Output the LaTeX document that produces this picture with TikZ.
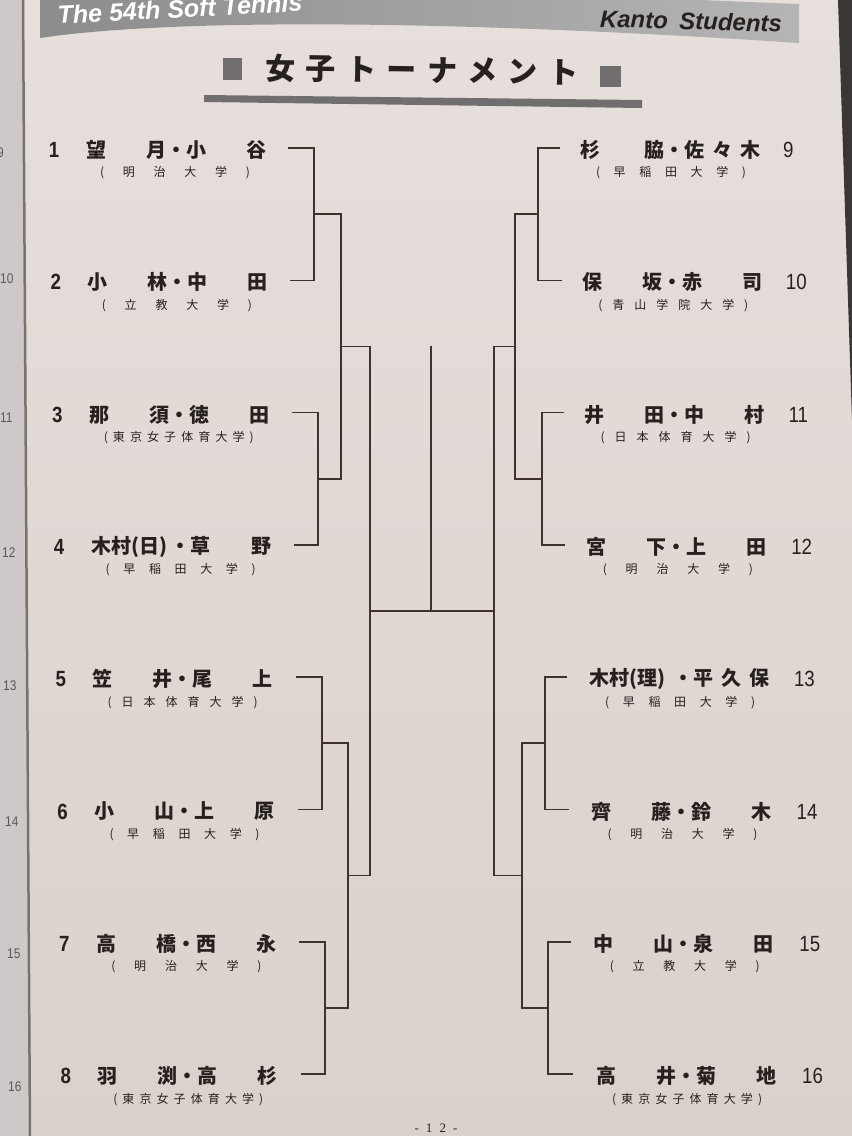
\documentclass[tikz,border=0pt]{standalone}
\usepackage{fontspec}
\setmainfont{Liberation Sans}
\newfontfamily\jpfont{Noto Sans CJK JP}
\newfontfamily\numfont{Liberation Sans}[FakeStretch=0.85]
\newfontfamily\folio{Liberation Serif}

\definecolor{paperhi}{RGB}{231,223,220}
\definecolor{paperlo}{RGB}{219,209,204}
\definecolor{strip}{RGB}{206,201,200}
\definecolor{gutter}{RGB}{120,114,112}
\definecolor{desk}{RGB}{58,54,54}
\definecolor{bandL}{RGB}{140,140,140}
\definecolor{bandR}{RGB}{182,181,181}
\definecolor{titlegray}{RGB}{112,110,110}
\definecolor{ink}{RGB}{38,32,30}
\definecolor{rule}{RGB}{62,50,44}

% spread a school name evenly between its brackets
\ExplSyntaxOn
\NewDocumentCommand \school { m }
  { \makebox[150pt][s]{ ( \exp_args:No \tl_map_inline:nn {#1} { \hfill ##1 } \hfill ) } }
\ExplSyntaxOff

\begin{document}
\begin{tikzpicture}[x=1pt,y=-1pt,
    every node/.style={text=ink,inner sep=0pt},
    seedL/.style={font=\numfont\bfseries\fontsize{22}{22}\selectfont},
    seedR/.style={font=\numfont\fontsize{22}{22}\selectfont,anchor=west},
    pairbox/.style={font=\jpfont\bfseries\fontsize{20}{20}\selectfont},
    unibox/.style={font=\jpfont\fontsize{12}{12}\selectfont},
    stripno/.style={font=\numfont\fontsize{14}{14}\selectfont,text=black!65,anchor=west},
    bracketline/.style={draw=rule,line width=1.6pt}]
  \useasboundingbox (0,0) rectangle (852,1136);
  \clip (0,0) rectangle (852,1136);
  % paper, facing page and desk
  \shade[top color=paperhi,bottom color=paperlo] (0,0) rectangle (852,1136);
  \fill[strip] (0,0) -- (22,0) -- (29,1136) -- (0,1136) -- cycle;
  \draw[gutter,line width=2.5pt] (23,0) -- (30,1136);
  \foreach \j/\x/\y in {9/-3/153,10/0/279,11/0/418,12/2/553,13/3/686,14/5/822,15/7/954,16/8/1087}
    \node[stripno] (g\j) at (\x,\y) {\j};
  \fill[desk] (838,0) -- (852,0) -- (852,420) -- cycle;
  % running head
  \shade[left color=bandL,right color=bandR] (40,0) -- (700,0) -- (799,4) -- (799,43)
    .. controls (420,18) and (160,20) .. (40,38) -- cycle;
  \node[text=white,anchor=base west,rotate=3,font=\bfseries\itshape\fontsize{25}{25}\selectfont]
    (head) at (58,24) {The 54th Soft Tennis};
  \node[rotate=-1.5,font=\bfseries\itshape\fontsize{24}{24}\selectfont] (meet) at (691,21)
    {\makebox[182pt][s]{K\hfil a\hfil n\hfil t\hfil o\hfill\ S\hfil t\hfil u\hfil d\hfil e\hfil n\hfil t\hfil s}};
  % title
  \fill[titlegray] (223,58) rectangle (242,80);
  \fill[titlegray] (600,66) rectangle (621,87);
  \node[rotate=-0.8,font=\jpfont\bfseries\fontsize{30}{30}\selectfont] (title) at (422,70)
    {\makebox[313pt][s]{女\hfill 子\hfill ト\hfill ー\hfill ナ\hfill メ\hfill ン\hfill ト}};
  \fill[titlegray] (204,95) -- (642,100) -- (642,108) -- (204,102) -- cycle;
  % left half of the draw
  \foreach \i/\pair/\club in {
      1/{望\hfill 月・小\hfill 谷}/明治大学,
      2/{小\hfill 林・中\hfill 田}/立教大学,
      3/{那\hfill 須・徳\hfill 田}/東京女子体育大学,
      4/{木村(日)\hspace{3pt}・草\hfill 野}/早稲田大学,
      5/{笠\hfill 井・尾\hfill 上}/日本体育大学,
      6/{小\hfill 山・上\hfill 原}/早稲田大学,
      7/{高\hfill 橋・西\hfill 永}/明治大学,
      8/{羽\hfill 渕・高\hfill 杉}/東京女子体育大学}{
    \node[seedL] (n\i) at ({54+1.7*(\i-1)},{150+132.3*(\i-1)}) {\i};
    \node[pairbox] (p\i) at ({176+1.7*(\i-1)},{150+132.3*(\i-1)}) {\makebox[180pt][s]{\pair}};
    \node[unibox] (u\i) at ({175+1.9*(\i-1)},{173+132.3*(\i-1)}) {\school{\club}};
    \coordinate (e\i) at ({288+1.9*(\i-1)},{148+132.3*(\i-1)});
  }
  % right half of the draw
  \foreach \i/\pair/\club in {
      9/{杉\hfill 脇・佐\hspace{8pt}々\hspace{8pt}木}/早稲田大学,
      10/{保\hfill 坂・赤\hfill 司}/青山学院大学,
      11/{井\hfill 田・中\hfill 村}/日本体育大学,
      12/{宮\hfill 下・上\hfill 田}/明治大学,
      13/{木村(理)\hfill ・平\hspace{8pt}久\hspace{8pt}保}/早稲田大学,
      14/{齊\hfill 藤・鈴\hfill 木}/明治大学,
      15/{中\hfill 山・泉\hfill 田}/立教大学,
      16/{高\hfill 井・菊\hfill 地}/東京女子体育大学}{
    \node[seedR] (n\i) at ({783+2.7*(\i-9)},{150+132.3*(\i-9)}) {\i};
    \node[pairbox] (p\i) at ({670+2.3*(\i-9)},{150+132.3*(\i-9)}) {\makebox[180pt][s]{\pair}};
    \node[unibox] (u\i) at ({671+2.3*(\i-9)},{173+132.3*(\i-9)}) {\school{\club}};
    \coordinate (e\i) at ({560+1.8*(\i-9)},{148+132.3*(\i-9)});
  }
  % first round
  \coordinate (m12) at (314,214);    \coordinate (m910) at (538,214);
  \coordinate (m34) at (318,479);    \coordinate (m1112) at (542,479);
  \coordinate (m56) at (322,743);    \coordinate (m1314) at (545,743);
  \coordinate (m78) at (325,1008);   \coordinate (m1516) at (548,1008);
  % second round
  \coordinate (q14) at (341,346.5);  \coordinate (q912) at (515,346.5);
  \coordinate (q58) at (348,875.5);  \coordinate (q1316) at (522,875.5);
  % semifinals and final
  \coordinate (sL) at (370,611);     \coordinate (sR) at (494,611);
  \coordinate (fin) at (431,611);    \coordinate (champ) at (431,346);
  \foreach \a/\b in {1/2,3/4,5/6,7/8,9/10,11/12,13/14,15/16}
    \draw[bracketline] (e\a) -| (m\a\b) |- (e\b);
  \draw[bracketline] (m12) -| (q14) |- (m34);
  \draw[bracketline] (m56) -| (q58) |- (m78);
  \draw[bracketline] (m910) -| (q912) |- (m1112);
  \draw[bracketline] (m1314) -| (q1316) |- (m1516);
  \draw[bracketline] (q14) -| (sL) |- (q58);
  \draw[bracketline] (q912) -| (sR) |- (q1316);
  \draw[bracketline] (sL) -- (sR);
  \draw[bracketline] (fin) -- (champ);
  % folio
  \node[font=\folio\fontsize{13}{13}\selectfont] (folio) at (436,1128)
    {\makebox[43pt][s]{-\hfill 1\hfill 2\hfill -}};
\end{tikzpicture}
\end{document}
